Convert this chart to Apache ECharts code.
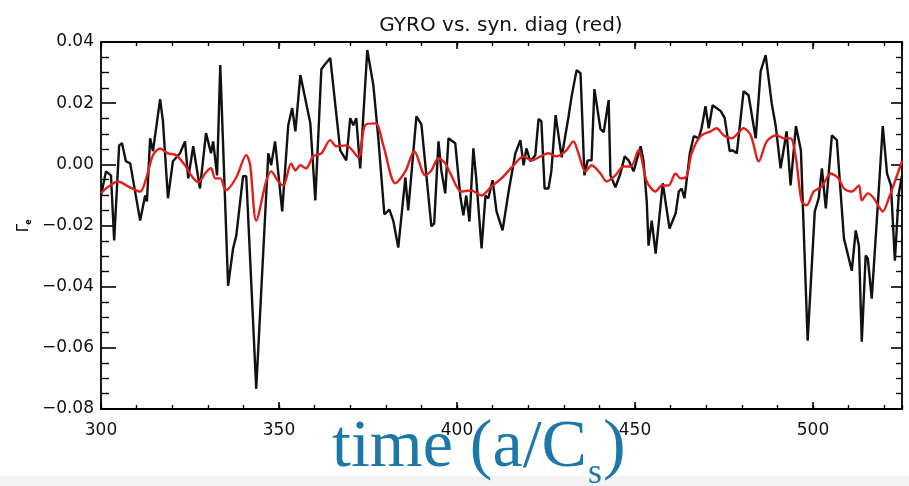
<!DOCTYPE html>
<html>
<head>
<meta charset="utf-8">
<script src="https://cdn.jsdelivr.net/npm/echarts@6/dist/echarts.min.js"></script>
<style>
  html, body { margin: 0; padding: 0; background: #fff; }
  #chart { width: 909px; height: 486px; }
</style>
</head>
<body>
<div id="chart"></div>
<script>
// GYRO flux time trace (black)
const gyroTime = [300.0,301.4,302.8,303.7,305.1,305.9,307.0,308.2,311.0,312.4,
  312.9,313.8,314.6,316.6,317.4,318.8,320.2,322.2,323.6,324.5,
  325.9,327.8,329.5,330.9,331.5,332.6,333.5,335.7,337.1,338.0,
  339.9,340.8,343.6,347.0,347.8,348.9,350.9,352.6,353.7,354.6,
  356.0,358.8,360.2,361.9,363.0,364.4,367.2,368.9,370.0,370.9,
  371.7,372.8,374.8,376.5,377.9,379.6,381.0,382.1,383.5,385.5,
  386.3,388.6,390.0,392.8,393.6,394.8,395.6,396.7,397.6,399.5,
  401.0,401.8,402.6,403.5,404.6,405.4,406.9,408.0,408.8,410.0,
  411.1,412.8,414.5,416.4,417.8,418.7,419.5,420.6,422.0,422.9,
  423.7,424.6,425.7,426.5,427.7,429.4,431.3,432.2,433.6,434.7,
  435.8,436.7,437.8,438.6,440.3,441.2,442.6,443.1,444.5,445.9,
  447.1,448.2,449.6,451.6,452.4,453.3,453.8,454.7,455.8,457.8,
  459.7,461.4,462.3,463.1,463.9,465.4,466.5,467.9,468.7,469.8,
  470.7,471.8,472.9,474.1,475.2,476.6,477.4,478.6,480.5,481.9,
  483.9,485.3,486.7,488.4,489.5,490.9,492.6,493.7,495.2,496.6,
  498.5,500.5,501.6,502.5,503.6,505.3,506.7,508.7,510.9,512.0,
  512.9,513.7,514.8,515.4,516.5,518.2,519.6,520.8,521.9,523.0,
  524.1,525.0];
const gyroFlux = [-0.0102,-0.0023,-0.0036,-0.0249,0.0062,0.0069,0.0010,0.0003,-0.0184,-0.0102,
  -0.0121,0.0085,0.0043,0.0213,0.0141,-0.0111,0.0010,0.0036,0.0075,-0.0046,
  0.0059,-0.0079,0.0102,0.0036,0.0075,-0.0036,0.0325,-0.0397,-0.0275,-0.0233,
  -0.0039,-0.0039,-0.0734,0.0036,-0.0003,0.0075,-0.0154,0.0128,0.0184,0.0108,
  0.0292,0.0134,-0.0118,0.0311,0.0328,0.0348,0.0046,0.0013,0.0151,0.0128,
  0.0151,-0.0013,0.0374,0.0259,0.0085,-0.0164,-0.0148,-0.0184,-0.0272,-0.0043,
  -0.0151,0.0157,0.0131,-0.0203,-0.0193,0.0075,-0.0020,-0.0095,0.0085,0.0069,
  -0.0111,-0.0167,-0.0102,-0.0187,0.0052,-0.0046,-0.0275,-0.0102,-0.0111,-0.0052,
  -0.0154,-0.0216,-0.0089,0.0036,0.0079,-0.0003,0.0052,0.0010,0.0030,0.0148,
  0.0141,-0.0079,-0.0079,-0.0023,0.0161,0.0023,0.0154,0.0223,0.0308,0.0298,
  -0.0036,0.0013,0.0013,0.0246,0.0115,0.0105,0.0210,-0.0036,-0.0075,-0.0030,
  0.0026,0.0013,-0.0023,0.0059,0.0010,-0.0121,-0.0266,-0.0184,-0.0292,-0.0062,
  -0.0210,-0.0161,-0.0089,-0.0079,-0.0111,0.0036,0.0092,0.0085,0.0118,0.0190,
  0.0118,0.0193,0.0184,0.0174,0.0151,0.0043,0.0046,0.0036,0.0239,0.0226,
  0.0085,0.0305,0.0357,0.0200,0.0128,-0.0013,0.0108,-0.0069,0.0125,0.0046,
  -0.0577,-0.0154,-0.0111,-0.0013,-0.0144,0.0095,0.0079,-0.0243,-0.0348,-0.0216,
  -0.0266,-0.0580,-0.0298,-0.0308,-0.0439,-0.0134,0.0125,-0.0030,-0.0069,-0.0315,
  -0.0095,-0.0036];

// synthetic diagnostic trace (red)
const synTime = [300.0,301.4,304.8,307.6,311.0,312.7,314.6,316.6,318.8,321.1,
  323.6,325.3,327.3,329.5,330.9,332.1,333.5,335.1,338.0,340.8,
  341.9,343.6,346.4,347.8,349.8,351.2,353.4,354.6,356.0,357.6,
  359.6,361.9,364.4,366.1,368.9,372.3,374.2,377.1,379.3,382.7,
  385.5,388.0,391.1,392.8,394.8,396.7,398.4,401.2,404.0,406.9,
  409.7,412.5,415.9,418.7,420.9,423.5,425.7,427.9,430.5,432.7,
  434.1,436.1,437.8,440.3,442.0,444.5,446.8,448.8,451.0,453.3,
  455.8,457.5,459.4,461.4,462.8,464.5,465.9,468.4,471.3,472.9,
  474.9,477.2,480.5,482.5,484.8,487.0,489.8,491.8,493.7,495.2,
  496.8,498.2,500.2,502.5,505.0,507.2,508.7,510.9,512.9,513.7,
  515.4,517.1,518.5,519.6,521.3,523.3,525.0];
const synFlux = [-0.0095,-0.0079,-0.0056,-0.0072,-0.0089,-0.0046,0.0030,0.0052,0.0036,0.0030,
  -0.0003,-0.0036,-0.0059,-0.0026,-0.0013,-0.0046,-0.0046,-0.0085,-0.0043,0.0030,
  -0.0003,-0.0184,-0.0056,-0.0023,-0.0056,-0.0069,0.0003,-0.0020,-0.0003,-0.0013,
  0.0026,0.0036,0.0079,0.0059,0.0062,0.0023,0.0128,0.0134,0.0062,-0.0062,
  -0.0023,0.0043,-0.0036,-0.0020,0.0020,0.0003,-0.0036,-0.0089,-0.0085,-0.0102,
  -0.0072,-0.0046,-0.0003,0.0026,0.0013,0.0026,0.0036,0.0026,0.0043,0.0075,
  0.0036,-0.0023,-0.0003,-0.0030,-0.0056,-0.0036,-0.0007,-0.0007,0.0046,-0.0056,
  -0.0089,-0.0069,-0.0069,-0.0030,-0.0046,-0.0039,0.0036,0.0092,0.0108,0.0118,
  0.0095,0.0085,0.0118,0.0095,0.0010,0.0075,0.0095,0.0085,0.0085,0.0020,
  -0.0121,-0.0134,-0.0089,-0.0072,-0.0030,-0.0046,-0.0079,-0.0089,-0.0069,-0.0118,
  -0.0095,-0.0111,-0.0138,-0.0154,-0.0111,-0.0046,0.0010];

// axis ranges and tick steps
const timeMin = 300, timeMax = 525, timeMajor = 50, timeMinor = 10;
const fluxMin = -0.08, fluxMax = 0.04, fluxMajor = 0.02;

const titleText = 'GYRO vs. syn. diag (red)';
const xNameMain = 'time (a/C';
const xNameSub = 's';
const xNameEnd = ')';

const zip = (xs, ys) => xs.map((x, i) => [x, ys[i]]);

const chart = echarts.init(document.getElementById('chart'), null, { renderer: 'canvas' });

const gridRect = { left: 101, right: 7, top: 42, bottom: 77 };
const lineCol = '#000';
const tickFont = 'DejaVu Sans';

// measure the large axis caption so the subscript sits right after "C"
const nameColor = '#1b78a9';
const nameSize = 68, subSize = 36;
const mctx = document.createElement('canvas').getContext('2d');
mctx.font = nameSize + 'px "Liberation Serif"';
const wMain = mctx.measureText(xNameMain).width;
mctx.font = subSize + 'px "Liberation Serif"';
const wSub = mctx.measureText(xNameSub).width;
const nameX = 332;

function fmtFlux(v) {
  const a = Math.abs(v) < 1e-9 ? 0 : v;
  return (a < 0 ? '\u2212' : '') + Math.abs(a).toFixed(2);
}

const option = {
  backgroundColor: '#fff',
  animation: false,
  grid: [
    Object.assign({ id: 'main' }, gridRect),
    Object.assign({ id: 'minor' }, gridRect)
  ],
  xAxis: [
    { gridIndex: 0, type: 'value', position: 'bottom', min: timeMin, max: timeMax, interval: timeMajor,
      axisLine: { show: true, onZero: false, lineStyle: { color: lineCol, width: 1.8 } },
      axisTick: { show: true, inside: true, length: 7, lineStyle: { color: lineCol, width: 1.6 } },
      minorTick: { show: false }, splitLine: { show: false },
      axisLabel: { show: true, margin: 13, fontSize: 17, fontFamily: tickFont, color: '#111', showMaxLabel: false } },
    { gridIndex: 0, type: 'value', position: 'top', min: timeMin, max: timeMax, interval: timeMajor,
      axisLine: { show: true, onZero: false, lineStyle: { color: lineCol, width: 1.8 } },
      axisTick: { show: true, inside: true, length: 7, lineStyle: { color: lineCol, width: 1.6 } },
      splitLine: { show: false }, axisLabel: { show: false } },
    { gridIndex: 1, type: 'value', position: 'bottom', min: timeMin, max: timeMax, interval: timeMinor,
      axisLine: { show: false, onZero: false },
      axisTick: { show: true, inside: true, length: 4, lineStyle: { color: lineCol, width: 1.4 } },
      splitLine: { show: false }, axisLabel: { show: false } },
    { gridIndex: 1, type: 'value', position: 'top', min: timeMin, max: timeMax, interval: timeMinor,
      axisLine: { show: false, onZero: false },
      axisTick: { show: true, inside: true, length: 4, lineStyle: { color: lineCol, width: 1.4 } },
      splitLine: { show: false }, axisLabel: { show: false } }
  ],
  yAxis: [
    { gridIndex: 0, type: 'value', position: 'left', min: fluxMin, max: fluxMax, interval: fluxMajor,
      axisLine: { show: true, onZero: false, lineStyle: { color: lineCol, width: 1.8 } },
      axisTick: { show: true, inside: true, length: 15, lineStyle: { color: lineCol, width: 1.6 } },
      minorTick: { show: true, splitNumber: 4, length: 8, lineStyle: { color: lineCol, width: 1.4 } },
      splitLine: { show: false }, minorSplitLine: { show: false },
      axisLabel: { show: true, margin: 7, fontSize: 17, fontFamily: tickFont, color: '#111', formatter: fmtFlux } },
    { gridIndex: 0, type: 'value', position: 'right', min: fluxMin, max: fluxMax, interval: fluxMajor,
      axisLine: { show: true, onZero: false, lineStyle: { color: lineCol, width: 1.8 } },
      axisTick: { show: true, inside: true, length: 11, lineStyle: { color: lineCol, width: 1.6 } },
      minorTick: { show: true, splitNumber: 4, length: 6, lineStyle: { color: lineCol, width: 1.4 } },
      splitLine: { show: false }, axisLabel: { show: false } },
    { gridIndex: 1, type: 'value', show: false, min: fluxMin, max: fluxMax }
  ],
  series: [
    { name: 'GYRO', type: 'line', xAxisIndex: 0, yAxisIndex: 0, data: zip(gyroTime, gyroFlux),
      showSymbol: false, smooth: false, z: 3,
      lineStyle: { color: '#111', width: 2.4 } },
    { name: 'syn. diag', type: 'line', xAxisIndex: 0, yAxisIndex: 0, data: zip(synTime, synFlux),
      showSymbol: false, smooth: 0.3, z: 4,
      lineStyle: { color: '#e0201c', width: 2.4 } }
  ],
  graphic: [
    { type: 'rect', z: 0, shape: { x: 0, y: 476, width: 909, height: 10 }, style: { fill: '#f3f3f3' } },
    { type: 'text', x: 501, y: 26, z: 10,
      style: { text: titleText, font: '20px "DejaVu Sans"', fill: '#111', align: 'center', verticalAlign: 'middle' } },
    { type: 'group', x: 24, y: 228, rotation: Math.PI / 2, z: 10, children: [
      { type: 'text', x: 0, y: 0, style: { text: '\u0393', font: '15px "DejaVu Sans"', fill: '#000', align: 'center', verticalAlign: 'middle' } },
      { type: 'text', x: 6, y: 5, style: { text: 'e', font: 'bold 8px "DejaVu Sans"', fill: '#000', align: 'center', verticalAlign: 'middle' } }
    ] },
    { type: 'text', x: nameX, y: 448, z: 20,
      style: { text: xNameMain, font: nameSize + 'px "Liberation Serif"', fill: nameColor, align: 'left', verticalAlign: 'middle' } },
    { type: 'text', x: nameX + wMain + 1, y: 474, z: 20,
      style: { text: xNameSub, font: subSize + 'px "Liberation Serif"', fill: nameColor, align: 'left', verticalAlign: 'middle' } },
    { type: 'text', x: nameX + wMain + wSub + 2, y: 448, z: 20,
      style: { text: xNameEnd, font: nameSize + 'px "Liberation Serif"', fill: nameColor, align: 'left', verticalAlign: 'middle' } }
  ]
};

chart.setOption(option);
</script>
</body>
</html>
